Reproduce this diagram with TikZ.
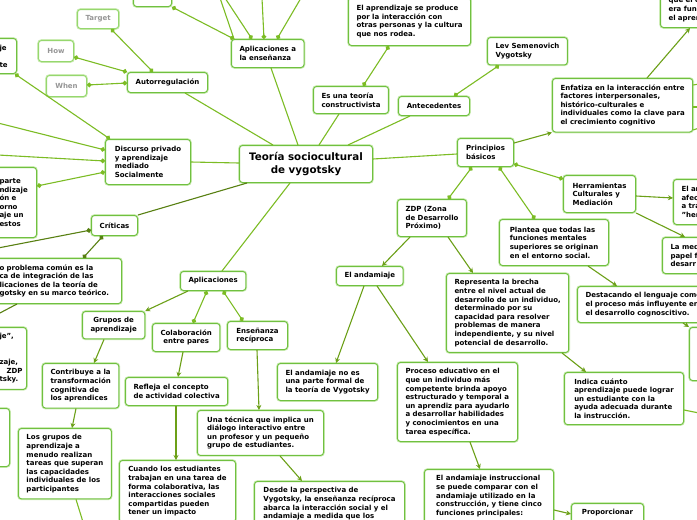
\documentclass[tikz,border=0pt]{standalone}
\usepackage{fontspec}
\setmainfont{DejaVu Sans}
\usetikzlibrary{arrows.meta}
\definecolor{boxgreen}{RGB}{112,192,64}
\definecolor{boxhalo}{RGB}{204,236,180}
\definecolor{ghostgreen}{RGB}{150,215,110}
\definecolor{linegreen}{RGB}{124,188,36}
\definecolor{arrowgreen}{RGB}{108,160,24}
\definecolor{darkgreen}{RGB}{88,128,18}
\definecolor{ghosttext}{RGB}{150,150,150}
\newcommand{\boxfont}{\fontsize{7}{8.6}\selectfont\bfseries}
\newcommand{\titlefont}{\fontsize{10.3}{13.6}\selectfont\bfseries}
\tikzset{
    %Define standard arrow tip
    >={Stealth[length=5pt,width=5pt]},
    %Define style for boxes
    leaf/.style={
           rectangle,
           rounded corners=3pt,
           draw=boxgreen, line width=1pt,
           preaction={draw=boxhalo, line width=2.6pt},
           fill=white,
           font=\boxfont,
           align=left,
           inner xsep=8pt, inner ysep=6pt,
           anchor=north west},
    topic/.style={
           leaf,
           font=\titlefont,
           align=center},
    ghost/.style={
           leaf,
           draw=ghostgreen,
           text=ghosttext,
           align=center},
    % Define connector styles
    lnk/.style={draw=linegreen, line width=1.1pt},
    dlnk/.style={draw=darkgreen, line width=1.1pt},
    dotlnk/.style={lnk, {Circle[length=4.6pt]}-{Circle[length=4.6pt]}},
    enddot/.style={lnk, -{Circle[length=4.6pt]}},
    arr/.style={draw=arrowgreen, line width=1.1pt, ->}
}
\begin{document}
\begin{tikzpicture}[x=1pt,y=-1pt]
\fill[white] (0,0) rectangle (697,520);
\useasboundingbox (0,0) rectangle (697,520);

 %nodes
\node[topic, minimum width=133pt, minimum height=37pt] (title) at (239,145) {Teoría sociocultural\\de vygotsky};

\node[leaf, minimum width=38pt, minimum height=16pt] (aplTop) at (133,-10) {};
\node[leaf, minimum width=72pt, minimum height=28pt] (aplEns) at (231,39) {Aplicaciones a\\la enseñanza};
\node[ghost, minimum width=41pt, minimum height=19pt] (target) at (77,9) {Target};
\node[ghost, minimum width=35pt, minimum height=21pt] (how) at (38,40) {How};
\node[ghost, minimum width=40pt, minimum height=21pt] (when) at (46,75) {When};
\node[leaf, minimum width=80pt, minimum height=20pt, align=center] (autorreg) at (127,72) {Autorregulación};
\node[leaf, anchor=north east, text width=9pt, minimum height=35pt] (leftTop) at (17,38) {je\\\mbox{}\\te};
\node[leaf, minimum width=85pt, minimum height=45pt] (discurso) at (105,139) {Discurso privado\\y aprendizaje\\mediado\\Socialmente};
\node[leaf, anchor=north east, text width=29pt, minimum height=70pt] (leftMid) at (37,167) {parte\\ndizaje\\ón e\\orno\\aje un\\estos};
\node[leaf, minimum width=46pt, minimum height=20pt, align=center] (criticas) at (91,215) {Críticas};
\node[leaf, anchor=north east, text width=114pt, minimum height=45pt] (problema) at (122,258) {o problema común es la\\ca de integración de las\\licaciones de la teoría de\\gotsky en su marco teórico.};
\node[leaf, anchor=north east, text width=19pt, minimum height=61pt] (leftLow) at (27,327) {je",\\\mbox{}\\\mbox{}\\zaje,\\\hspace*{7pt}ZDP\\tsky.};
\node[leaf, anchor=north east, minimum width=18pt, minimum height=58pt] (leftBot) at (10,408) {};

\node[leaf, minimum width=65pt, minimum height=19pt, align=center] (aplicaciones) at (180,271) {Aplicaciones};
\node[leaf, minimum width=62pt, minimum height=27pt, align=center] (grupos) at (82,311) {Grupos de\\aprendizaje};
\node[leaf, minimum width=66pt, minimum height=28pt, align=center] (colab) at (152,323) {Colaboración\\entre pares};
\node[leaf, minimum width=60pt, minimum height=28pt] (ensen) at (227,321) {Enseñanza\\recíproca};
\node[leaf, minimum width=76pt, minimum height=44pt] (contribuye) at (42,363) {Contribuye a la\\transformación\\cognitiva de\\los aprendices};
\node[leaf, minimum width=92pt, minimum height=70pt] (losgrupos) at (18,428) {Los grupos de\\aprendizaje a\\menudo realizan\\tareas que superan\\las capacidades\\individuales de los\\participantes};
\node[leaf, minimum width=102pt, minimum height=28pt] (refleja) at (125,377) {Refleja el concepto\\de actividad colectiva};
\node[leaf, minimum width=116pt] (cuando) at (119,460) {Cuando los estudiantes\\trabajan en una tarea de\\forma colaborativa, las\\interacciones sociales\\compartidas pueden\\tener un impacto};
\node[leaf, minimum width=126pt, minimum height=44pt] (tecnica) at (197,410) {Una técnica que implica un\\diálogo interactivo entre\\un profesor y un pequeño\\grupo de estudiantes.};
\node[leaf, minimum width=150pt] (desde) at (254,481) {Desde la perspectiva de\\Vygotsky, la enseñanza recíproca\\abarca la interacción social y el\\andamiaje a medida que los};

\node[leaf, minimum width=73pt, minimum height=27pt] (esuna) at (313,86) {Es una teoría\\constructivista};
\node[leaf, minimum width=122pt, minimum height=48pt] (aprend) at (348,-3) {El aprendizaje se produce\\por la interacción con\\otras personas y la cultura\\que nos rodea.};
\node[leaf, minimum width=71pt, minimum height=19pt, align=center] (antecedentes) at (398,96) {Antecedentes};
\node[leaf, minimum width=79pt, minimum height=27pt] (lev) at (487,37) {Lev Semenovich\\Vygotsky};

\node[leaf, minimum width=56pt, minimum height=28pt] (principios) at (457,138) {Principios\\básicos};
\node[leaf, minimum width=140pt, minimum height=53pt] (enfatiza) at (552,78) {Enfatiza en la interacción entre\\factores interpersonales,\\histórico-culturales e\\individuales como la clave para\\el crecimiento cognitivo};
\node[leaf, text width=60pt, minimum height=36pt] (topRight) at (660,-9) {que el c\\era fun\\el apren};
\node[leaf, minimum width=68pt, minimum height=37pt] (zdp) at (397,199) {ZDP (Zona\\de Desarrollo\\Próximo)};
\node[leaf, minimum width=109pt, minimum height=46pt] (plantea) at (499,219) {Plantea que todas las\\funciones mentales\\superiores se originan\\en el entorno social.};
\node[leaf, minimum width=72pt, minimum height=37pt] (herramientas) at (563,175) {Herramientas\\Culturales y\\Mediación};
\node[leaf, text width=40pt, minimum height=45pt] (elar) at (673,179) {El ar\\afec\\a tra\\"her};
\node[leaf, text width=40pt, minimum height=36pt] (lamed) at (662,237) {La med\\papel f\\desarr};
\node[leaf, text width=130pt, minimum height=36pt] (destacando) at (577,286) {Destacando el lenguaje como\\el proceso más influyente en\\el desarrollo cognoscitivo.};
\node[leaf, minimum width=30pt, minimum height=53pt] (rightBox) at (689,327) {};

\node[leaf, minimum width=66pt, minimum height=19pt, align=center] (andamiaje) at (336,266) {El andamiaje};
\node[leaf, minimum width=121pt, minimum height=78pt] (representa) at (446,273) {Representa la brecha\\entre el nivel actual de\\desarrollo de un individuo,\\determinado por su\\capacidad para resolver\\problemas de manera\\independiente, y su nivel\\potencial de desarrollo.};
\node[leaf, minimum width=119pt, minimum height=52pt] (indica) at (564,372) {Indica cuánto\\aprendizaje puede lograr\\un estudiante con la\\ayuda adecuada durante\\la instrucción.};
\node[leaf, minimum width=100pt, minimum height=37pt] (noes) at (277,363) {El andamiaje no es\\una parte formal de\\la teoría de Vygotsky};
\node[leaf, minimum width=120pt, minimum height=79pt] (proceso) at (397,362) {Proceso educativo en el\\que un individuo más\\competente brinda apoyo\\estructurado y temporal a\\un aprendiz para ayudarlo\\a desarrollar habilidades\\y conocimientos en una\\tarea específica.};
\node[leaf, minimum width=129pt] (instruccional) at (424,469) {El andamiaje instruccional\\se puede comparar con el\\andamiaje utilizado en la\\construcción, y tiene cinco\\funciones principales:};
\node[leaf, minimum width=72pt] (proporcionar) at (571,503) {Proporcionar\\\mbox{}};

 %free ends
\coordinate (offA) at (220,-2);
\coordinate (offB) at (225,-2);
\coordinate (offC) at (262,-2);
\coordinate (offD) at (301,-2);
\coordinate (offE) at (-2,123);
\coordinate (offF) at (-2,155);
\coordinate (offG) at (-2,248);
\coordinate (offH) at (-2,314);
\coordinate (offI) at (83,522);
\coordinate (offJ) at (699,84);
\coordinate (offK) at (699,107);
\coordinate (offL) at (699,128);
\coordinate (offM) at (699,413);

 %connectors
\draw[dotlnk] (aplTop.south east) -- (aplEns.north -| 234,0);
\draw[lnk] (offA) -- (aplEns.north -| 234,0);
\draw[enddot] (offB) -- (aplEns.north -| 252,0);
\draw[enddot] (offC) -- (aplEns.north -| 264,0);
\draw[enddot] (offD) -- (aplEns.north -| 277,0);
\draw[dotlnk] (target.south -| 111,0) -- (autorreg.north -| 153,0);
\draw[dotlnk] (how.east |- 0,57) -- (autorreg.north west);
\draw[dotlnk] (when.east |- 0,85) -- (autorreg.west |- 0,83);
\draw[lnk] (autorreg.south -| 185,0) -- (title.north -| 273,0);
\draw[lnk] (aplEns.south -| 271,0) -- (title.north -| 298,0);
\draw[lnk] (esuna.south -| 339,0) -- (title.north -| 319,0);
\draw[lnk] (antecedentes.south -| 410,0) -- (title.north -| 348,0);
\draw[dotlnk] (esuna.north -| 363,0) -- (aprend.south -| 389,0);
\draw[dotlnk] (antecedentes.north -| 454,0) -- (lev.south -| 499,0);
\draw[dotlnk] (leftTop.south -| 15,0) -- (discurso.north -| 110,0);
\draw[enddot] (offE) -- (discurso.west |- 0,150);
\draw[enddot] (offF) -- (discurso.west |- 0,161);
\draw[dotlnk] (leftMid.east |- 0,186) -- (discurso.west |- 0,172);
\draw[lnk] (discurso.east |- 0,162) -- (title.west |- 0,163);
\draw[dlnk] (criticas.north east) -- (title.south -| 247,0);
\draw[dlnk, -{Circle[length=4.6pt]}] (offG) -- (criticas.west |- 0,230);
\draw[dlnk, {Circle[length=4.6pt]}-{Circle[length=4.6pt]}] (criticas.south -| 103,0) -- (problema.north -| 83,0);
\draw[dlnk] (problema.south -| 17,0) -- (offH);
\draw[lnk] (title.south -| 290,0) -- (aplicaciones.north -| 222,0);
\draw[arr] (aplicaciones.south -| 188,0) -- (grupos.north east);
\draw[dotlnk] (aplicaciones.south -| 207,0) -- (colab.north -| 193,0);
\draw[dotlnk] (aplicaciones.south -| 223,0) -- (ensen.north -| 243,0);
\draw[arr] (grupos.south -| 104,0) -- (contribuye.north -| 94,0);
\draw[arr] (contribuye.south -| 76,0) -- (losgrupos.north -| 72,0);
\draw[lnk] (losgrupos.south -| 76,0) -- (offI);
\draw[arr] (colab.south -| 183,0) -- (refleja.north -| 178,0);
\draw[arr] (refleja.south -| 176,0) -- (cuando.north -| 176,0);
\draw[arr] (ensen.south -| 257,0) -- (tecnica.north -| 259,0);
\draw[arr] (tecnica.south -| 280,0) -- (desde.north -| 302,0);
\draw[lnk] (title.east |- 0,159) -- (principios.west |- 0,154);
\draw[arr] (principios.east |- 0,143) -- (enfatiza.south west);
\draw[arr] (enfatiza.north -| 647,0) -- (topRight.south -| 690,0);
\draw[lnk] (enfatiza.east |- 0,85) -- (offJ);
\draw[lnk] (enfatiza.east |- 0,107) -- (offK);
\draw[lnk] (enfatiza.east |- 0,130) -- (offL);
\draw[dotlnk] (principios.south -| 472,0) -- (zdp.north -| 448,0);
\draw[dotlnk] (principios.south -| 499,0) -- (plantea.north -| 535,0);
\draw[dotlnk] (principios.east |- 0,164) -- (herramientas.west |- 0,179);
\draw[arr] (herramientas.east |- 0,196) -- (elar.west |- 0,198);
\draw[arr] (herramientas.south east) -- (lamed.north -| 685,0);
\draw[arr] (plantea.south -| 588,0) -- (destacando.north -| 617,0);
\draw[arr] (destacando.south -| 683,0) -- (rightBox.north west);
\draw[arr] (zdp.south -| 410,0) -- (andamiaje.north -| 382,0);
\draw[arr] (zdp.south -| 448,0) -- (representa.north -| 473,0);
\draw[arr] (representa.south -| 562,0) -- (indica.north -| 586,0);
\draw[lnk] (indica.east |- 0,410) -- (offM);
\draw[arr] (andamiaje.south -| 364,0) -- (noes.north -| 336,0);
\draw[arr] (andamiaje.south -| 377,0) -- (proceso.north -| 428,0);
\draw[arr] (proceso.south -| 470,0) -- (instruccional.north -| 480,0);
\draw[arr] (instruccional.east |- 0,510) -- (proporcionar.west |- 0,514);

\end{tikzpicture}
\end{document}
